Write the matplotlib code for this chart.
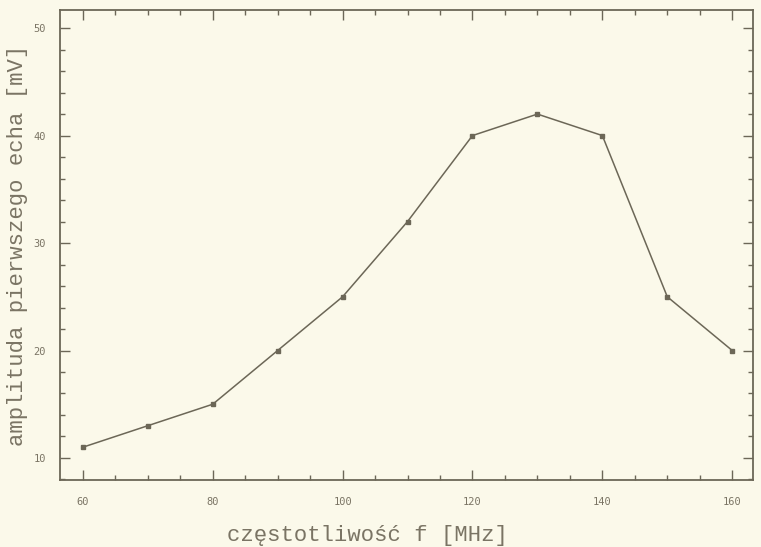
import matplotlib
matplotlib.use("Agg")
import matplotlib.pyplot as plt
from matplotlib.ticker import MultipleLocator

freq = [60, 70, 80, 90, 100, 110, 120, 130, 140, 150, 160]
amp = [11, 13, 15, 20, 25, 32, 40, 42, 40, 25, 20]
xticks = [60, 80, 100, 120, 140, 160]
yticks = [10, 20, 30, 40, 50]

bg = "#fbf9ea"
ink = "#6c6757"
txt = "#7a7464"

fig = plt.figure(figsize=(7.61, 5.47), dpi=100, facecolor=bg)
ax = fig.add_axes([0.079, 0.1225, 0.9105, 0.8595], facecolor=bg)

ax.plot(freq, amp, color=ink, lw=1.1, marker="s", ms=2.2, mfc=ink, mec=ink)

ax.set_xlim(56.5, 163.2)
ax.set_ylim(7.95, 51.7)
ax.set_xticks(xticks)
ax.set_yticks(yticks)
ax.xaxis.set_minor_locator(MultipleLocator(5))
ax.yaxis.set_minor_locator(MultipleLocator(2))

ax.tick_params(which="both", direction="in", top=True, right=True, color=ink,
               labelcolor=txt, width=1.0)
ax.tick_params(which="major", length=7.5, pad=12)
ax.tick_params(which="minor", length=3.5)
for lab in ax.get_xticklabels() + ax.get_yticklabels():
    lab.set_fontfamily("DejaVu Sans Mono")
    lab.set_fontsize(7.5)
ax.tick_params(axis="y", pad=10)

for s in ax.spines.values():
    s.set_color(ink)
    s.set_linewidth(1.3)

ax.set_xlabel("częstotliwość f [MHz]", family="Liberation Mono", fontsize=16,
              color=txt, labelpad=12)
ax.xaxis.set_label_coords(0.444, -0.095)
ax.set_ylabel("amplituda pierwszego echa [mV]", family="Liberation Mono",
              fontsize=16, color=txt, labelpad=4)

fig.savefig("out.png", dpi=100, facecolor=bg)
